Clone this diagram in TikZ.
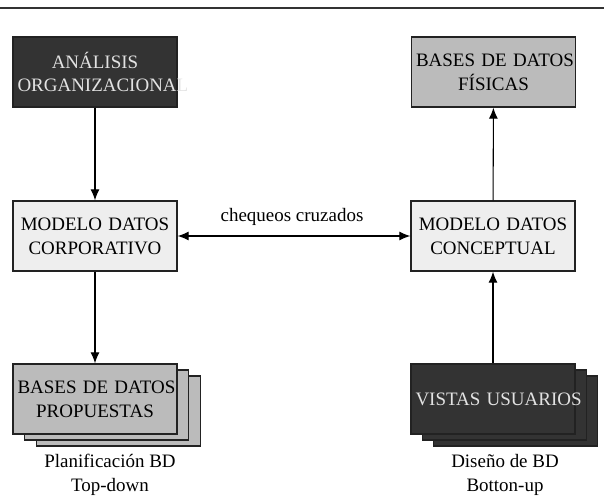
\documentclass[tikz,border=0pt]{standalone}
\usepackage{fontspec}
\setmainfont{Liberation Serif}
\usetikzlibrary{arrows.meta}
\definecolor{oscuro}{HTML}{333333}
\definecolor{medio}{HTML}{BBBBBB}
\definecolor{claro}{HTML}{EEEEEE}
\definecolor{borde}{HTML}{222222}
\definecolor{letraclara}{HTML}{E2E2E2}
\begin{document}
\begin{tikzpicture}[x=0.02cm, y=-0.02cm,
  font=\fontsize{10.8}{13.5}\selectfont,
  caja/.style={draw=borde, line width=0.8pt, text width=3.1cm, align=center,
    inner sep=0.09cm, minimum height=1.4cm},
  cajaosc/.style={caja, fill=oscuro, text=letraclara},
  cajamed/.style={caja, fill=medio},
  cajacla/.style={caja, fill=claro},
  punta/.tip={Latex[length=2.2mm,width=1.8mm]},
  flecha/.style={draw=black, line width=0.6pt, -punta},
  flechas/.style={draw=black, line width=0.6pt, punta-punta}]
 \useasboundingbox (0,0) rectangle (604,500);
 \draw [line width=1.6pt, draw=oscuro] (0,8) -- (604,8);
 % columna izquierda: top-down
 \node [cajaosc] (analisis) at (95,72) {\mbox{ANÁLISIS}\\\mbox{ORGANIZACIONAL}};
 \node [cajacla] (corporativo) at (95,236) {\mbox{MODELO DATOS}\\\mbox{CORPORATIVO}};
 \node [cajamed] (prop3) at (118.5,411) {\phantom{X}};
 \node [cajamed] (prop2) at (106.5,405) {\phantom{X}};
 \node [cajamed] (propuestas) at (95,399) {\mbox{BASES DE DATOS}\\\mbox{PROPUESTAS}};
 \node [align=center] (planif) at (110,475) {Planificación BD\\Top-down};
 % columna derecha: botton-up
 \node [cajamed] (fisicas) at (493.5,72) {\mbox{BASES DE DATOS}\\\mbox{FÍSICAS}};
 \node [cajacla] (conceptual) at (493,236) {\mbox{MODELO DATOS}\\\mbox{CONCEPTUAL}};
 \node [cajaosc] (vistas3) at (515.5,411) {\phantom{X}};
 \node [cajaosc] (vistas2) at (504.5,405) {\phantom{X}};
 \node [cajaosc] (vistas) at (493,399) {\mbox{VISTAS USUARIOS}};
 \node [align=center] (diseno) at (505,475) {Diseño de BD\\Botton-up};
 \node (chequeos) at (292,217) {chequeos cruzados};
 \draw [flecha] (analisis) -- (corporativo);
 \draw [flecha] (corporativo) -- (propuestas);
 \draw [flecha] (vistas) -- (conceptual);
 \draw [flecha] (conceptual) -- (fisicas);
 \draw [flechas] (corporativo) -- (conceptual);
\end{tikzpicture}
\end{document}
